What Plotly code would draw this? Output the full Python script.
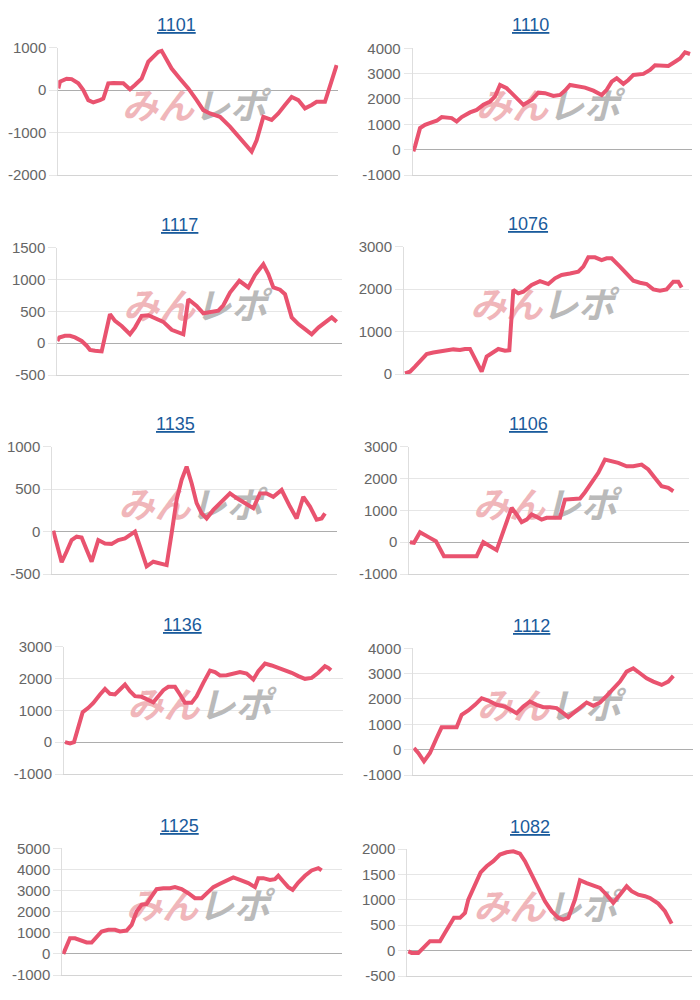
import plotly.graph_objects as go

# ---------------- data ----------------
titles = ["1101", "1110", "1117", "1076", "1135", "1106", "1136", "1112", "1125", "1082"]

g_1101 = [0, 50, 250, 400, 600, 750, 900, 1050, 1250, 1350, 1500, 1650, 1950, 2150, 2300, 2500, 2700, 2850,
          3000, 3100, 3250, 3400, 3650, 3900, 4150, 4350, 4550, 4850, 5150, 5450, 5650, 5800, 5950, 6150, 6400,
          6600, 6800, 7000, 7200, 7400, 7600, 7750, 8000, 8150, 8350]
d_1101 = [40, 200, 270, 260, 160, 0, -235, -290, -235, -200, 160, 170, 160, 20, 120, 270, 670, 780, 900, 925,
          700, 510, 270, 40, -235, -470, -550, -630, -860, -1140, -1330, -1450, -1180, -630, -700, -550, -350,
          -160, -235, -430, -350, -275, -275, 80, 590]

g_1110 = [20, 70, 220, 370, 570, 720, 870, 1020, 1170, 1320, 1470, 1720, 1920, 2120, 2320, 2470, 2620, 2820,
          3070, 3320, 3570, 3770, 3970, 4220, 4420, 4570, 4720, 4920, 5170, 5420, 5670, 5820, 5970, 6120, 6320,
          6470, 6620, 6920, 7120, 7270, 7470, 7670, 7870, 8020, 8170, 8320]
d_1110 = [-65, 130, 850, 980, 1075, 1140, 1285, 1245, 1245, 1110, 1285, 1470, 1570, 1770, 1900, 2100, 2555, 2425,
          2100, 1770, 1965, 2250, 2230, 2120, 2160, 2330, 2555, 2515, 2450, 2330, 2160, 2360, 2685, 2815, 2595,
          2750, 2950, 2990, 3145, 3330, 3315, 3300, 3470, 3600, 3840, 3775]

g_1117 = [0, 60, 230, 380, 530, 730, 880, 980, 1130, 1330, 1580, 1730, 1930, 2180, 2330, 2530, 2730, 2930, 3180,
          3430, 3630, 3780, 3930, 4180, 4380, 4630, 4830, 4980, 5180, 5460, 5730, 5930, 6180, 6330, 6480, 6680,
          6830, 7030, 7230, 7430, 7630, 7830, 8030, 8230, 8380]
d_1117 = [35, 90, 115, 115, 90, 35, -40, -105, -120, -130, 455, 350, 270, 140, 245, 430, 440, 400, 335, 210, 170,
          140, 690, 585, 470, 490, 510, 595, 795, 980, 875, 1070, 1240, 1085, 875, 840, 770, 405, 300, 220, 140,
          245, 325, 405, 335]

g_1076 = [30, 180, 330, 530, 680, 880, 1080, 1280, 1480, 1680, 1830, 1980, 2130, 2330, 2480, 2680, 2830, 3030,
          3160, 3280, 3430, 3580, 3830, 4080, 4330, 4530, 4730, 4980, 5230, 5380, 5530, 5730, 5930, 6080, 6230,
          6480, 6680, 6880, 7080, 7280, 7480, 7680, 7880, 8080, 8230, 8330]
d_1076 = [15, 55, 175, 345, 470, 505, 525, 565, 580, 565, 590, 590, 370, 55, 410, 525, 590, 550, 560, 1980, 1900,
          1940, 2100, 2190, 2120, 2255, 2335, 2370, 2410, 2530, 2750, 2750, 2685, 2725, 2725, 2530, 2355, 2200,
          2150, 2120, 1995, 1965, 1995, 2175, 2175, 2040]

g_1135 = [30, 130, 280, 430, 580, 730, 880, 1030, 1180, 1380, 1580, 1780, 1980, 2180, 2330, 2480, 2630, 2830,
          3030, 3230, 3430, 3580, 3730, 3880, 4030, 4180, 4330, 4480, 4630, 4830, 5080, 5330, 5530, 5780, 6030,
          6230, 6430, 6630, 6880, 7130, 7330, 7530, 7730, 7930, 8080, 8180]
d_1135 = [10, -140, -360, -235, -100, -60, -70, -215, -355, -100, -140, -145, -100, -80, -40, 0, -175, -410, -355,
          -375, -395, -20, 375, 610, 765, 570, 335, 215, 155, 255, 355, 450, 395, 335, 275, 450, 450, 410, 490,
          295, 155, 410, 295, 140, 155, 215]

g_1106 = [20, 140, 320, 470, 620, 800, 920, 1040, 1220, 1520, 1820, 2020, 2220, 2420, 2620, 2770, 2920, 3070,
          3220, 3370, 3520, 3670, 3820, 3970, 4120, 4320, 4520, 4670, 4870, 5120, 5270, 5470, 5670, 5870, 6070,
          6270, 6520, 6720, 6970, 7170, 7370, 7570, 7770, 7920]
d_1106 = [0, -20, 315, 240, 135, 30, -180, -440, -440, -440, -440, -440, 0, -125, -250, 190, 605, 1080, 870, 630,
          710, 870, 795, 710, 765, 765, 765, 1340, 1340, 1370, 1570, 1865, 2180, 2595, 2545, 2490, 2385, 2385,
          2440, 2285, 2020, 1760, 1705, 1600]

g_1136 = [30, 180, 300, 430, 560, 730, 880, 1080, 1230, 1380, 1530, 1680, 1830, 1980, 2130, 2330, 2480, 2680,
          2830, 2980, 3130, 3330, 3480, 3630, 3830, 3980, 4180, 4380, 4530, 4680, 4880, 5080, 5280, 5480, 5680,
          5830, 6030, 6230, 6430, 6630, 6830, 7030, 7230, 7430, 7630, 7830, 7930, 8010]
d_1136 = [0, -40, 0, 500, 940, 1080, 1235, 1500, 1675, 1520, 1500, 1655, 1810, 1600, 1445, 1425, 1360, 1255,
          1445, 1635, 1740, 1740, 1500, 1235, 1235, 1445, 1865, 2250, 2200, 2095, 2105, 2155, 2200, 2155, 1970,
          2230, 2470, 2410, 2335, 2250, 2180, 2075, 1990, 2020, 2180, 2385, 2335, 2260]

g_1112 = [20, 150, 320, 500, 700, 850, 1050, 1300, 1450, 1650, 1850, 2050, 2250, 2500, 2750, 2900, 3100, 3300,
          3500, 3700, 3900, 4100, 4300, 4500, 4650, 4800, 5000, 5200, 5400, 5600, 5800, 6000, 6200, 6400, 6600,
          6800, 7000, 7200, 7450, 7650, 7800]
d_1112 = [65, -130, -460, -130, 460, 880, 880, 880, 1375, 1545, 1770, 2030, 1940, 1770, 1700, 1570, 1440, 1700,
          1900, 1770, 1675, 1675, 1640, 1440, 1285, 1440, 1640, 1860, 1730, 1860, 2120, 2385, 2685, 3080, 3210,
          3015, 2815, 2685, 2555, 2685, 2910]

g_1125 = [30, 110, 230, 380, 580, 730, 880, 1030, 1180, 1380, 1580, 1730, 1930, 2080, 2230, 2380, 2530, 2680,
          2830, 3030, 3230, 3380, 3580, 3780, 3980, 4180, 4330, 4530, 4730, 4930, 5130, 5330, 5580, 5780, 5880,
          6030, 6230, 6380, 6480, 6630, 6780, 6910, 7080, 7280, 7480, 7680, 7780]
d_1125 = [0, 350, 740, 740, 630, 540, 540, 820, 1060, 1140, 1140, 1060, 1105, 1375, 2005, 2320, 2370, 2720, 3065,
          3110, 3110, 3160, 3065, 2875, 2640, 2640, 2875, 3160, 3320, 3475, 3620, 3505, 3350, 3160, 3585, 3585,
          3505, 3540, 3700, 3430, 3160, 3035, 3380, 3700, 3950, 4060, 3950]

g_1082 = [30, 130, 330, 480, 680, 830, 980, 1130, 1280, 1400, 1580, 1730, 1830, 2030, 2200, 2380, 2580, 2780,
          2980, 3180, 3380, 3530, 3730, 3930, 4130, 4330, 4530, 4680, 4830, 5030, 5180, 5380, 5580, 5780, 5980,
          6180, 6380, 6580, 6730, 6930, 7130, 7280, 7530, 7730, 7930]
d_1082 = [-15, -45, -45, 50, 185, 185, 185, 350, 510, 645, 645, 740, 1005, 1300, 1540, 1660, 1760, 1890, 1935,
          1955, 1910, 1760, 1495, 1235, 970, 775, 645, 610, 645, 1005, 1385, 1330, 1280, 1235, 1100, 940, 1100,
          1265, 1170, 1100, 1070, 1035, 925, 775, 530]

games = [g_1101, g_1110, g_1117, g_1076, g_1135, g_1106, g_1136, g_1112, g_1125, g_1082]
diffs = [d_1101, d_1110, d_1117, d_1076, d_1135, d_1106, d_1136, d_1112, d_1125, d_1082]

x_max = [8400, 8370, 8530, 8560, 8550, 8400, 8380, 8400, 8400, 8550]
y_min = [-2000, -1000, -500, 0, -500, -1000, -1000, -1000, -1000, -500]
y_max = [1000, 4000, 1500, 3000, 1000, 3000, 3000, 4000, 5000, 2000]
y_step = [1000, 1000, 500, 1000, 500, 1000, 1000, 1000, 1000, 500]

# ---------------- layout geometry (pixels in a 700x1000 page) ----------------
W, H = 700, 1000
# left, right, top, bottom of each plot area
boxes = [
    (58.3, 338.3, 47.7, 175), (412.7, 691.7, 48.3, 175),
    (57.3, 341.7, 247.7, 375), (404, 689.3, 246.7, 374),
    (52.3, 337.3, 446.7, 574), (409.3, 689.3, 446.7, 574),
    (64, 343.3, 646.7, 774), (413.3, 693.3, 648.3, 775),
    (62.3, 342.3, 848.3, 975), (407.3, 692.3, 849, 976),
]
title_pos = [(177, 25), (530, 25), (180, 225), (528, 224), (175, 424),
             (528, 424), (182, 625), (531, 626), (180, 826), (530, 827)]

LINE = "#e9536f"
GRID = "#e6e6e6"
FONT = "Liberation Sans, Arial, sans-serif"

fig = go.Figure()
layout = dict(
    width=W, height=H, margin=dict(l=0, r=0, t=0, b=0, pad=0, autoexpand=False),
    paper_bgcolor="white", plot_bgcolor="white", showlegend=False,
    annotations=[],
)

for i, name in enumerate(titles):
    n = "" if i == 0 else str(i + 1)
    xa, ya = "x" + n, "y" + n
    l, r, t, b = boxes[i]

    # watermark (drawn under the line)
    wx = x_max[i] * 0.485
    wy = y_min[i] + 0.51 * (y_max[i] - y_min[i])
    fig.add_trace(go.Scatter(
        x=[wx], y=[wy], mode="text", text=["<b><i>みん</i></b>"], textposition="middle left",
        textfont=dict(family="Noto Sans CJK JP", size=36, color="#f0b6ba"),
        xaxis=xa, yaxis=ya, hoverinfo="skip"))
    fig.add_trace(go.Scatter(
        x=[wx], y=[wy], mode="text", text=["<b><i>レポ</i></b>"], textposition="middle right",
        textfont=dict(family="Noto Sans CJK JP", size=36, color="#bababa"),
        xaxis=xa, yaxis=ya, hoverinfo="skip"))

    fig.add_trace(go.Scatter(
        x=games[i], y=diffs[i], mode="lines",
        line=dict(color=LINE, width=4), xaxis=xa, yaxis=ya, hoverinfo="skip"))

    tickvals = list(range(y_min[i], y_max[i] + 1, y_step[i]))
    layout["xaxis" + n] = dict(
        domain=[l / W, r / W], range=[0, x_max[i]], anchor=ya, automargin=False,
        showgrid=False, zeroline=False, showticklabels=False, ticks="",
        showline=True, linecolor="#d4d4d4", linewidth=1)
    layout["yaxis" + n] = dict(
        domain=[1 - b / H, 1 - t / H], range=[y_min[i], y_max[i]], anchor=xa, automargin=False,
        tickmode="array", tickvals=tickvals, ticktext=[str(v) for v in tickvals],
        showgrid=True, gridcolor=GRID, gridwidth=1,
        zeroline=True, zerolinecolor="#adadad", zerolinewidth=1,
        showline=True, linecolor="#dedede", linewidth=1,
        ticks="outside", ticklen=8, tickcolor=GRID,
        tickfont=dict(family=FONT, size=15, color="#666666"))

    tx, ty = title_pos[i]
    layout["annotations"].append(dict(
        text="<u>" + name + "</u>", x=tx / W, y=1 - ty / H, xref="paper", yref="paper",
        xanchor="center", yanchor="middle", showarrow=False,
        font=dict(family=FONT, size=18, color="#1a5b9c")))

fig.update_layout(**layout)
fig.write_html("out.html", config={"displayModeBar": False, "staticPlot": True},
               post_script="document.body.style.margin='0';document.body.style.overflow='hidden';")
